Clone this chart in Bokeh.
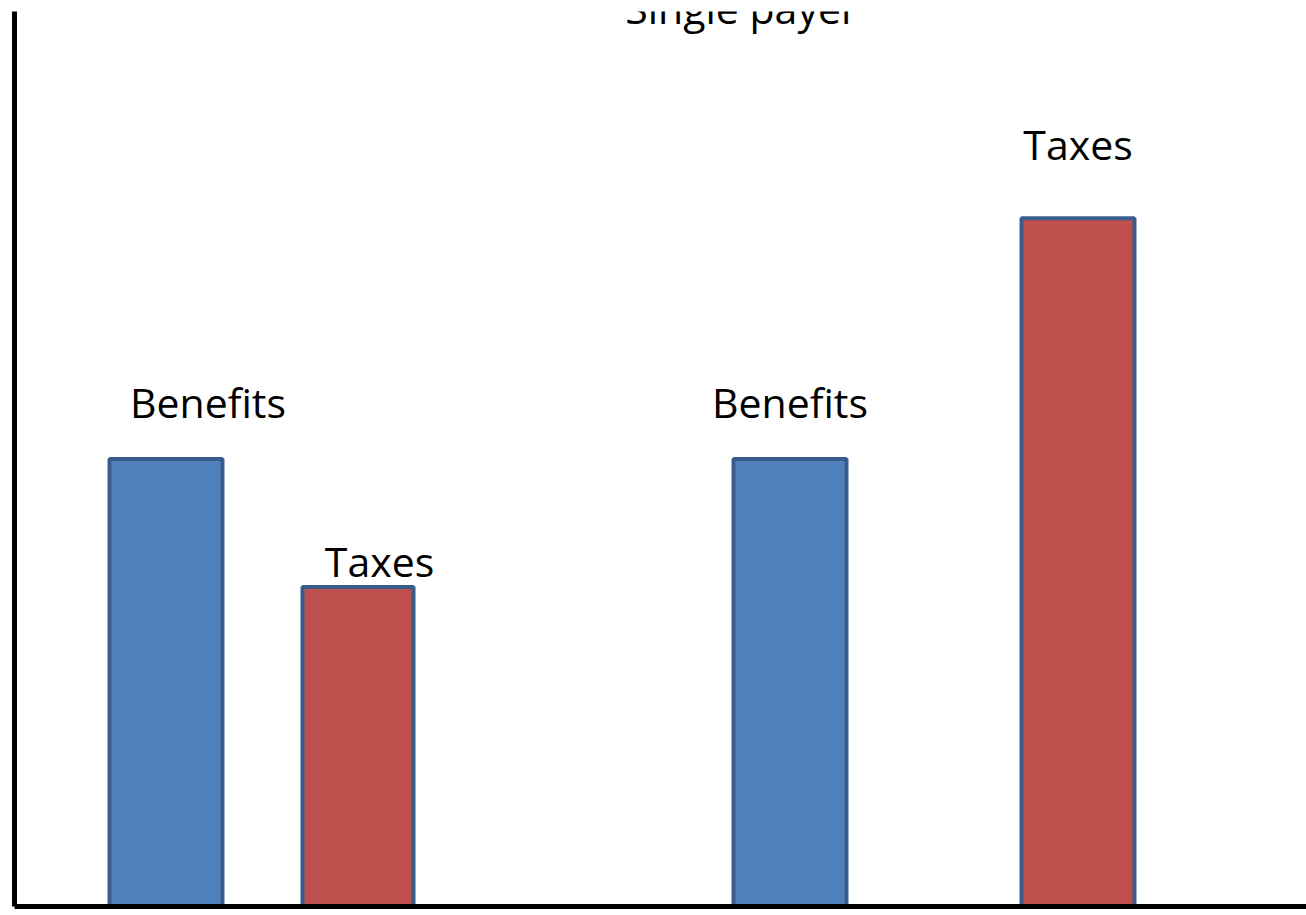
from bokeh.plotting import figure
from bokeh.models import Range1d, FixedTicker, ColumnDataSource, Label
from bokeh.embed import file_html
from bokeh.resources import INLINE
from bokeh.core.properties import value

# ---- data ----
labels = ["Benefits", "Taxes", "Benefits", "Taxes"]
values = [50.0, 35.7, 50.0, 76.9]
colors = ["#4F81BD", "#C0504D", "#4F81BD", "#C0504D"]
title_text = "Single payer"

# ---- layout (positions along x, in frame units) ----
x_pos = [151.5, 343.5, 775.5, 1063.5]
widths = [113, 111, 113, 113]
label_dx = [42, 21.5, 0, 0]
label_dy = [6.35, 2.95, 6.35, 8.25]

W, H = 1306, 915
p = figure(width=W, height=H, output_backend="svg", toolbar_location=None,
           x_range=Range1d(0, 1292), y_range=Range1d(0, 100),
           min_border_left=14, min_border_right=0, min_border_top=11, min_border_bottom=9)
p.outline_line_color = None
p.xgrid.visible = False
p.ygrid.visible = False
for ax in (p.xaxis[0], p.yaxis[0]):
    ax.ticker = FixedTicker(ticks=[])
    ax.major_tick_line_color = None
    ax.minor_tick_line_color = None
    ax.major_tick_out = 0
    ax.major_tick_in = 0
    ax.major_label_standoff = 0
    ax.axis_line_width = 5
    ax.axis_line_color = "black"

src = ColumnDataSource(dict(x=x_pos, top=values, w=widths, color=colors, label=labels,
                            lx=[x + d for x, d in zip(x_pos, label_dx)],
                            ly=[v + d for v, d in zip(values, label_dy)]))
p.vbar(x="x", top="top", width="w", bottom=0, source=src, fill_color="color",
       line_color="#385D8A", line_width=4)
p.text(x="lx", y="ly", text="label", source=src, text_align="center",
       text_baseline="alphabetic", text_font=value("Open Sans"),
       text_font_size="41px", text_color="black")

p.add_layout(Label(x=727, y=100.4, text=title_text, text_align="center",
                   text_baseline="alphabetic", text_font="Open Sans",
                   text_font_size="41px", text_color="black"))

open("out.html", "w").write(file_html(p, INLINE))
